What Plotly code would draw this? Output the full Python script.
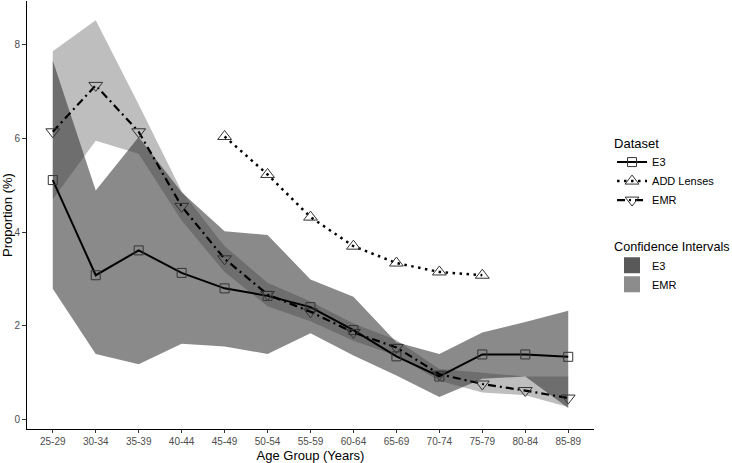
import plotly.graph_objects as go

ages = ['25-29', '30-34', '35-39', '40-44', '45-49', '50-54', '55-59',
        '60-64', '65-69', '70-74', '75-79', '80-84', '85-89']

e3 = [5.11, 3.08, 3.61, 3.13, 2.80, 2.64, 2.40, 1.91, 1.35, 0.92, 1.39, 1.39, 1.34]
e3_lo = [2.79, 1.40, 1.18, 1.62, 1.56, 1.40, 1.84, 1.37, 0.94, 0.48, 0.87, 0.92, 0.25]
e3_hi = [7.66, 4.89, 6.03, 4.85, 4.02, 3.94, 2.99, 2.62, 1.65, 1.40, 1.86, 2.08, 2.32]

emr = [6.14, 7.13, 6.14, 4.55, 3.43, 2.67, 2.30, 1.86, 1.54, 0.97, 0.76, 0.62, 0.46]
emr_lo = [4.70, 5.95, 5.67, 4.25, 3.15, 2.42, 2.10, 1.68, 1.36, 0.83, 0.58, 0.52, 0.27]
emr_hi = [7.86, 8.52, 6.72, 4.87, 3.70, 2.92, 2.52, 2.05, 1.70, 1.08, 1.00, 0.92, 0.92]

add_ages = ['45-49', '50-54', '55-59', '60-64', '65-69', '70-74', '75-79']
add = [6.04, 5.23, 4.32, 3.70, 3.34, 3.15, 3.08]

font = 'Liberation Sans, Arial, sans-serif'

fig = go.Figure()

# confidence ribbons
fig.add_trace(go.Scatter(
    x=ages + ages[::-1], y=e3_hi + e3_lo[::-1],
    fill='toself', fillcolor='rgba(0,0,0,0.46)', line=dict(width=0),
    mode='lines', hoverinfo='skip', showlegend=False
))
fig.add_trace(go.Scatter(
    x=ages + ages[::-1], y=emr_hi + emr_lo[::-1],
    fill='toself', fillcolor='rgba(49,49,49,0.316)', line=dict(width=0),
    mode='lines', hoverinfo='skip', showlegend=False
))

fig.add_trace(go.Scatter(
    x=ages, y=e3, name='E3', mode='lines+markers',
    line=dict(color='black', width=2),
    marker=dict(symbol='square-open', size=9, color='#333333', line=dict(width=1)),
    legend='legend'
))
fig.add_trace(go.Scatter(
    x=add_ages, y=add, name='ADD Lenses', mode='lines+markers',
    line=dict(color='black', width=2.5, dash='2.5px,4.5px'),
    marker=dict(symbol='triangle-up-open', size=12, color='#333333', line=dict(width=1)),
    legend='legend'
))
fig.add_trace(go.Scatter(
    x=ages, y=emr, name='EMR', mode='lines+markers',
    line=dict(color='black', width=2.2, dash='8px,4px,2px,4px'),
    marker=dict(symbol='triangle-down-open', size=12, color='#333333', line=dict(width=1)),
    legend='legend'
))

# legend keys for the ribbons
fig.add_trace(go.Scatter(
    x=[None], y=[None], name='E3', mode='markers',
    marker=dict(symbol='square', size=16, color='#595959'), legend='legend2'
))
fig.add_trace(go.Scatter(
    x=[None], y=[None], name='EMR', mode='markers',
    marker=dict(symbol='square', size=16, color='#8c8c8c'), legend='legend2'
))

fig.update_layout(
    width=732, height=463,
    margin=dict(l=27, r=137, t=1, b=34),
    paper_bgcolor='white', plot_bgcolor='white',
    font=dict(family=font, color='black'),
    legend=dict(
        title=dict(text='Dataset', font=dict(size=13)),
        x=1.03, xanchor='left', y=0.697, yanchor='top',
        font=dict(size=11), itemwidth=30, tracegroupgap=0
    ),
    legend2=dict(
        title=dict(text='Confidence Intervals', font=dict(size=12.7)),
        x=1.03, xanchor='left', y=0.455, yanchor='top',
        font=dict(size=11), itemwidth=30, tracegroupgap=0
    ),
    xaxis=dict(
        type='category', categoryorder='array', categoryarray=ages,
        range=[-0.6, 12.6],
        showline=True, linecolor='black', linewidth=1.1,
        ticks='outside', ticklen=3, tickcolor='#333333',
        tickfont=dict(size=10, color='#4d4d4d'),
        title=dict(text='Age Group (Years)', font=dict(size=13), standoff=4),
        showgrid=False, zeroline=False, automargin=False
    ),
    yaxis=dict(
        range=[-0.2, 8.93],
        tickvals=[0, 2, 4, 6, 8],
        showline=True, linecolor='black', linewidth=1.1,
        ticks='outside', ticklen=4, tickcolor='#333333',
        tickfont=dict(size=10, color='#4d4d4d'),
        title=dict(text='Proportion (%)', font=dict(size=13), standoff=2),
        showgrid=False, zeroline=False, automargin=False
    )
)

fig.write_html("out.html", config={'displayModeBar': False},
               post_script="document.body.style.margin='0px';")
